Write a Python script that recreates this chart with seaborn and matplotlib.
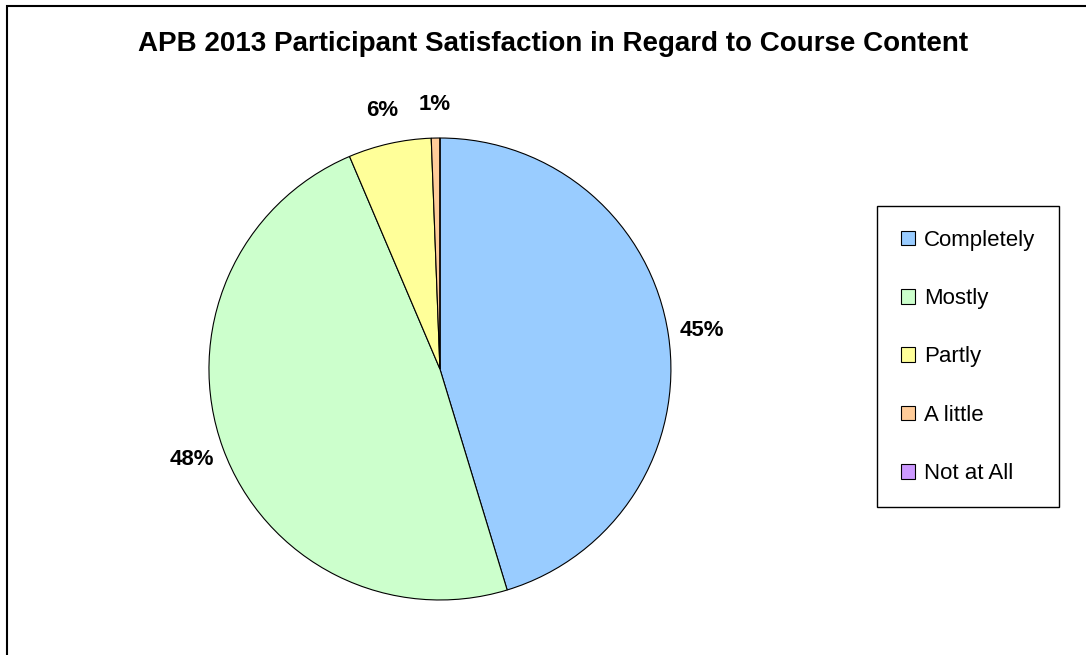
import numpy as np
import pandas as pd
import matplotlib
matplotlib.use('Agg')
import matplotlib.pyplot as plt
import seaborn as sns
from matplotlib.patches import Rectangle

# data (percent of participants)
categories = ['Completely', 'Mostly', 'Partly', 'A little', 'Not at All']
percents = [45.3, 48.3, 5.8, 0.6, 0.0]
slice_colors = ['#99CCFF', '#CCFFCC', '#FFFF99', '#FFCC99', '#CC99FF']
title = 'APB 2013 Participant Satisfaction in Regard to Course Content'

sns.set_theme(style='white')
plt.rcParams['font.family'] = ['Liberation Sans', 'DejaVu Sans']
plt.rcParams['text.color'] = 'black'

df = pd.DataFrame({'category': categories, 'percent': percents})

fig = plt.figure(figsize=(10.86, 6.55), dpi=100)
ax = fig.add_axes([0.1924, 0.0840, 0.4254, 0.7053])

def pct_label(p):
    return f'{p:.0f}%' if p > 0.05 else ''

wedges, texts, autotexts = ax.pie(
    df['percent'], colors=slice_colors, startangle=90, counterclock=False,
    autopct=pct_label, pctdistance=1.145,
    wedgeprops=dict(edgecolor='black', linewidth=0.8),
    textprops=dict(fontsize=16, fontweight='bold', color='black'))
ax.set_xlim(-1, 1)
ax.set_ylim(-1, 1)
ax.set_aspect('equal')

leg = fig.legend(wedges, categories, loc='center', bbox_to_anchor=(0.8913, 0.4550),
                 fontsize=16, frameon=True, fancybox=False, edgecolor='black',
                 framealpha=1, labelspacing=1.68, handlelength=0.65, handleheight=0.65,
                 handletextpad=0.4, borderpad=1.05, labelcolor='black')
leg.get_frame().set_linewidth(1.0)

fig.text(0.509, 0.933, title, ha='center', va='center', fontsize=20, fontweight='bold')

# chart area border (only top and left edges fall inside the picture)
fig.patches.append(Rectangle((0.0064, -0.1), 2, 1.0908, transform=fig.transFigure,
                             fill=False, edgecolor='black', linewidth=1.5))

fig.savefig('out.png', dpi=100, facecolor='white')
